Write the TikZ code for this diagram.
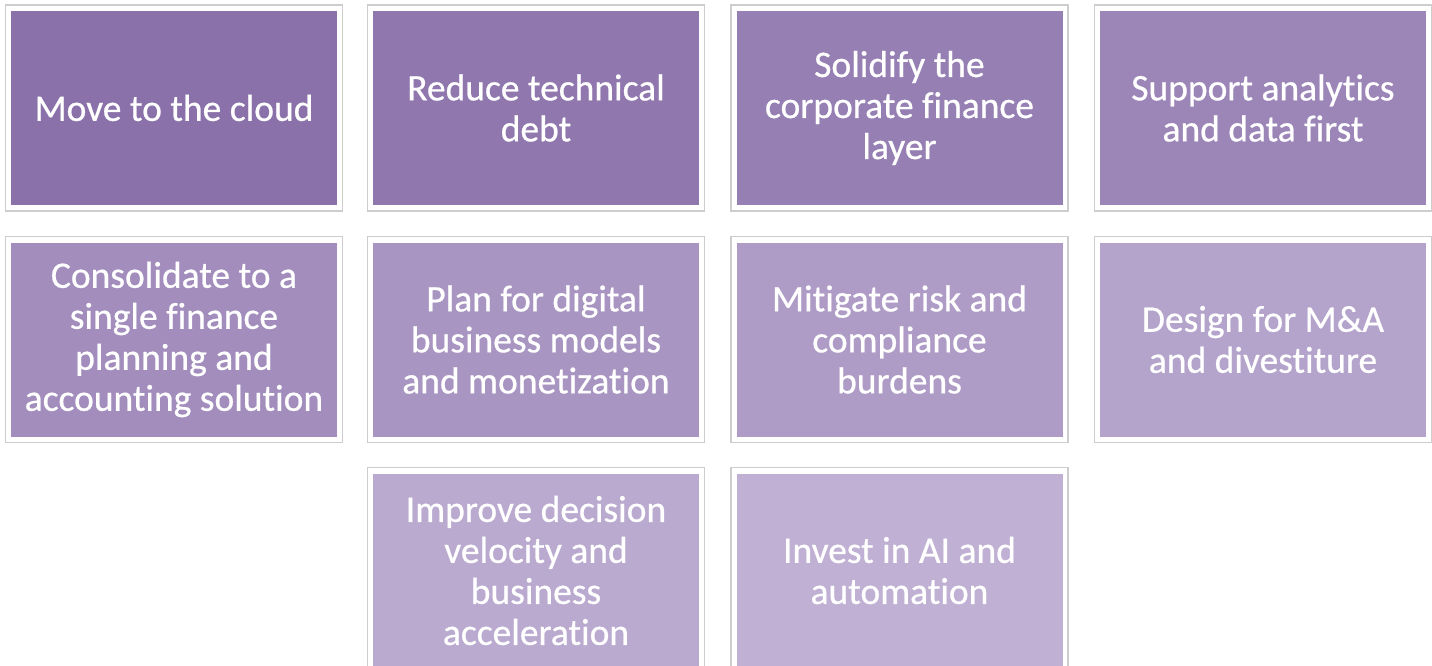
\documentclass[tikz,border=0pt]{standalone}
\usepackage{fontspec}
\setmainfont{Carlito}[Ligatures=NoCommon]
\newfontfamily\tilefont{Carlito}[Ligatures=NoCommon, FakeBold=0.6]
\definecolor{cstart}{RGB}{138,113,170}
\definecolor{cend}{RGB}{192,177,212}
\definecolor{framegray}{RGB}{205,205,205}
\tikzset{
  frame/.style={draw=framegray, line width=1.3pt, fill=white},
  tile/.style={inner sep=0pt, minimum width=326pt, minimum height=194pt, text=white, align=center, font=\tilefont\fontsize{37.5}{41}\selectfont},
}
\begin{document}
\begin{tikzpicture}[x=1pt,y=-1pt]
\useasboundingbox[fill=white] (0,0) rectangle (1432,666);
\def\tiles{%
 174/108/0/{Move to the cloud}/t1,
 536/108/1/{Reduce technical\\debt}/t2,
 899.5/108/2/{Solidify the\\corporate finance\\layer}/t3,
 1263/108/3/{Support analytics\\and data first}/t4,
 174/339.5/4/{Consolidate to a\\single finance\\planning and\\accounting solution}/t5,
 536/339.5/5/{Plan for digital\\business models\\and monetization}/t6,
 899.5/339.5/6/{Mitigate risk and\\compliance\\burdens}/t7,
 1263/339.5/7/{Design for M\&A\\and divestiture}/t8,
 536/570.5/8/{Improve decision\\velocity and\\business\\acceleration}/t9,
 899.5/570.5/9/{Invest in AI and\\automation}/t10}
\foreach \cx/\cy/\k/\txt/\nm in \tiles {
  \pgfmathsetmacro{\pct}{\k/9*100}
  \colorlet{tilecol}{cend!\pct!cstart}
  \draw[frame] (\cx-168.5,\cy-103) rectangle (\cx+168.5,\cy+103);
  \node[tile, fill=tilecol] (\nm) at (\cx,\cy) {\txt};
}
\end{tikzpicture}
\end{document}
